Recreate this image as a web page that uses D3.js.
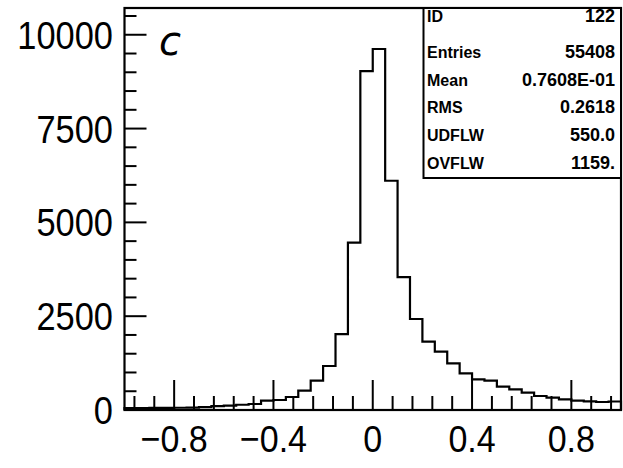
<!DOCTYPE html>
<html><head><meta charset="utf-8">
<script src="https://cdn.jsdelivr.net/npm/d3@7"></script>
<style>body{margin:0;background:#fff}svg{display:block}</style>
</head><body>
<svg id="c" width="623" height="468"></svg>
<script>
// bin edges (width 0.05) from -1 to 1
const binEdges = d3.range(-1, 1.0001, 0.05).map(v => +v.toFixed(2));
const counts = [50, 50, 55, 55, 60, 65, 75, 105, 115, 140,
                160, 248, 266, 346, 514, 781, 1173, 2020, 4460, 9030,
                9620, 6110, 3540, 2425, 1820, 1554, 1245, 978, 818, 781,
                621, 552, 461, 373, 328, 285, 248, 232, 213, 226];
const yTickLabels = [0, 2500, 5000, 7500, 10000];
const xTickLabels = [-0.8, -0.4, 0, 0.4, 0.8];
const statNames = ["ID", "Entries", "Mean", "RMS", "UDFLW", "OVFLW"];
const statValues = ["122", "55408", "0.7608E-01", "0.2618", "550.0", "1159."];
const panelLabel = "c";

const svg = d3.select("#c");
const L = 124.5, R = 621, T = 8, B = 410;
const x = d3.scaleLinear().domain([-1, 1]).range([L, R]);
const y = d3.scaleLinear().domain([0, 10713]).range([B, T]);

// minor / major ticks
const g = svg.append("g");
const yMinor = d3.range(0, 10501, 500);
g.selectAll(".ym").data(yMinor).join("line")
  .attr("x1", L).attr("x2", d => L + (d % 2500 === 0 ? 22 : 12))
  .attr("y1", d => y(d)).attr("y2", d => y(d))
  .attr("stroke", "#000").attr("stroke-width", 2);
const xMinor = d3.range(-12, 13).map(i => +(i * 0.08).toFixed(2));
g.selectAll(".xm").data(xMinor).join("line")
  .attr("y1", B).attr("y2", d => B - (Math.abs(Math.round(d * 100)) % 40 === 0 ? 30 : 14))
  .attr("x1", d => x(d)).attr("x2", d => x(d))
  .attr("stroke", "#000").attr("stroke-width", 2);

// histogram outline
const pts = [[binEdges[0], 0]];
counts.forEach((v, i) => { pts.push([binEdges[i], v]); pts.push([binEdges[i + 1], v]); });
pts.push([binEdges[counts.length], 0]);
svg.append("path")
  .attr("d", d3.line().x(d => x(d[0])).y(d => y(d[1]))(pts))
  .attr("fill", "none").attr("stroke", "#000").attr("stroke-width", 2.2)
  .attr("stroke-linejoin", "miter");

// frame
svg.append("rect").attr("x", L).attr("y", T).attr("width", R - L).attr("height", B - T)
  .attr("fill", "none").attr("stroke", "#000").attr("stroke-width", 2.2);

// axis labels (slightly condensed)
svg.selectAll(".yl").data(yTickLabels).join("text")
  .attr("transform", d => `translate(113,${y(d) + 14}) scale(0.93,1.05)`)
  .attr("text-anchor", "end").attr("font-family", "Liberation Sans, Arial, sans-serif")
  .attr("font-size", 37).text(d => d);
svg.selectAll(".xl").data(xTickLabels).join("text")
  .attr("transform", d => `translate(${x(d)},452) scale(0.92,1.02)`)
  .attr("text-anchor", "middle").attr("font-family", "Liberation Sans, Arial, sans-serif")
  .attr("font-size", 37).text(d => d < 0 ? "\u2212" + Math.abs(d) : String(d));

// panel label
svg.append("text").attr("x", 159).attr("y", 55)
  .attr("font-family", "DejaVu Sans, sans-serif").attr("font-style", "italic")
  .attr("font-size", 40).text(panelLabel);

// stats box
const bx = 423.5, by = 178;
svg.append("rect").attr("x", bx).attr("y", T).attr("width", R - bx).attr("height", by - T)
  .attr("fill", "#fff").attr("stroke", "#000").attr("stroke-width", 2);
const rowY = [22, 58, 86, 113, 141, 169];
svg.selectAll(".sn").data(statNames).join("text")
  .attr("x", 427).attr("y", (d, i) => rowY[i])
  .attr("font-family", "Liberation Sans, Arial, sans-serif").attr("font-weight", "bold")
  .attr("font-size", 16).text(d => d);
svg.selectAll(".sv").data(statValues).join("text")
  .attr("x", 615).attr("y", (d, i) => rowY[i]).attr("text-anchor", "end")
  .attr("font-family", "Liberation Sans, Arial, sans-serif").attr("font-weight", "bold")
  .attr("font-size", 18).text(d => d);
</script>
</body></html>
